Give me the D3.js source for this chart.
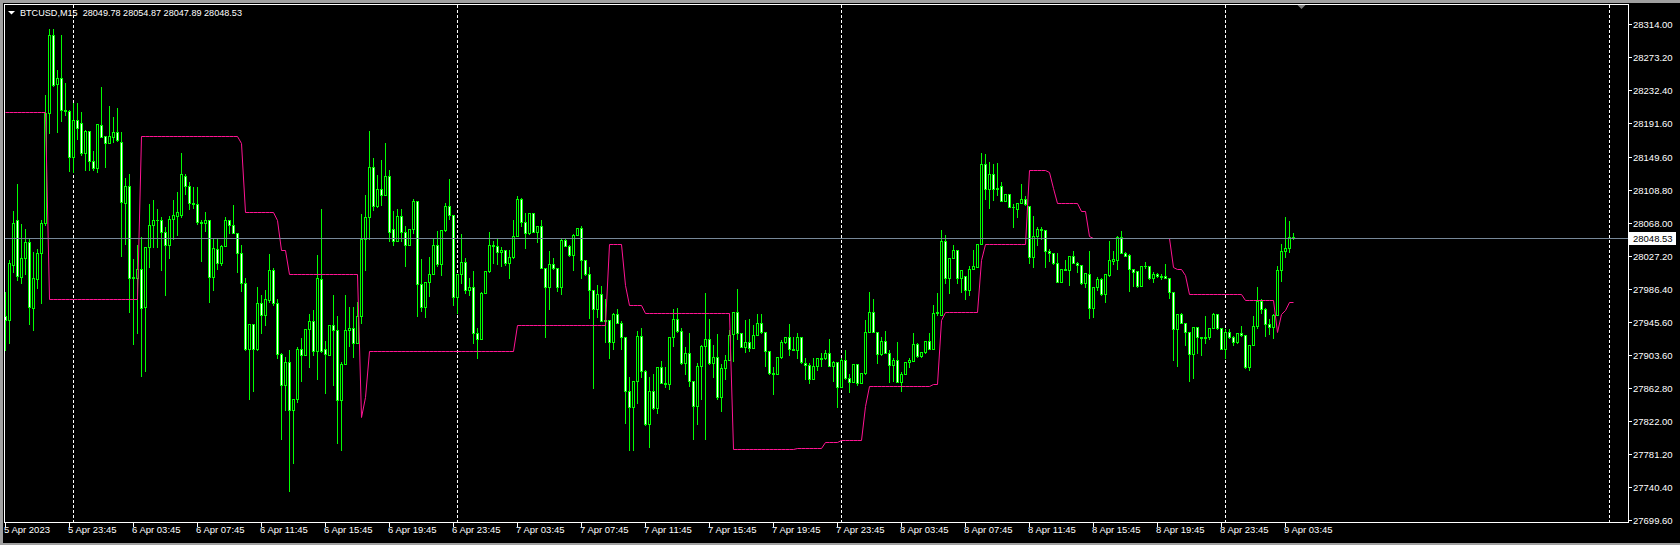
<!DOCTYPE html>
<html><head><meta charset="utf-8">
<script src="https://cdn.jsdelivr.net/npm/d3@7"></script>
<style>
html,body{margin:0;padding:0;background:#000;overflow:hidden}
svg{display:block}
text{font-family:"Liberation Sans",Arial,sans-serif;font-size:9.5px;white-space:pre}
text.title{font-size:9.1px}
</style>
</head><body>
<svg id="chart" width="1680" height="545"></svg>
<script>
// ---------------- DATA ----------------
const symbolLabel = "BTCUSD,M15";
const lastQuote = [28049.78, 28054.87, 28047.89, 28048.53]; // O H L C of the current bar
const bidPrice = 28048.53;

const openP = [
27953,27948,28016,28071,28001,28024,28044,27962,27998,28030,
28068,28204,28301,28240,28248,28208,28207,28150,28195,28192,
28155,28182,28144,28136,28189,28175,28167,28174,28180,28168,
28092,28113,28000,28000,28011,27963,28038,28065,28071,28072,
28057,28040,28073,28077,28078,28126,28113,28093,28091,28069,
28068,28072,28001,28036,28018,28039,28071,28065,28055,28030,
27993,27911,27943,27912,27969,27954,27972,28010,27968,27905,
27867,27896,27836,27850,27911,27904,27936,27946,27909,27998,
27912,27904,27941,27935,27848,27893,27935,27937,27919,27953,
28048,28075,28137,28089,28110,28103,28126,28060,28046,28077,
28057,28040,28060,28095,27992,27963,27994,28004,28040,28017,
28059,28089,28078,27976,28004,28020,27985,27988,27931,27924,
27981,28008,28041,28039,28032,28034,28018,28025,28052,28098,
28069,28055,28080,28057,28064,28012,27988,28017,28012,27988,
28047,28039,28028,28053,28062,28022,28004,27985,27961,27980,
27946,27948,27920,27955,27944,27926,27860,27840,27872,27928,
27884,27818,27860,27838,27889,27870,27868,27926,27949,27934,
27894,27906,27872,27841,27891,27915,27924,27894,27902,27852,
27888,27898,27930,27957,27931,27914,27920,27913,27929,27944,
27932,27909,27882,27880,27902,27920,27927,27912,27910,27926,
27894,27892,27874,27891,27899,27900,27906,27890,27895,27864,
27898,27876,27871,27893,27869,27882,27932,27957,27932,27905,
27921,27907,27892,27898,27871,27881,27896,27897,27918,27903,
27908,27921,27912,27956,27954,28046,27999,28024,28034,27999,
28002,27985,28011,28013,28042,28141,28110,28128,28110,28113,
28095,28104,28088,28085,28092,28098,28089,28026,28052,28060,
28059,28033,28030,28018,27995,28011,28010,28027,28018,28016,
27993,28004,27962,27988,27998,27980,28003,28021,28022,28050,
28030,28028,28011,28008,27990,28015,28015,27999,28005,28002,
28002,28000,27982,27936,27955,27944,27933,27905,27939,27926,
27925,27927,27938,27955,27937,27912,27933,27926,27920,27931,
27929,27889,27916,27940,27971,27961,27942,27939,27954,28010,
28033,28037,28049.78];

const highP = [
27982,28022,28082,28116,28066,28060,28049,28032,28035,28071,
28226,28308,28308,28257,28301,28241,28208,28217,28217,28205,
28183,28182,28157,28190,28236,28175,28213,28199,28210,28180,
28123,28129,28023,28040,28050,28038,28091,28096,28085,28075,
28063,28076,28096,28106,28154,28128,28119,28112,28112,28072,
28081,28072,28048,28048,28040,28075,28072,28090,28055,28041,
28000,27943,27943,27989,27978,27985,28029,28012,27974,27906,
27902,27910,27850,27914,27925,27936,27955,27960,28028,28085,
27922,27941,27979,27952,27896,27978,27964,27963,27970,28079,
28102,28182,28148,28127,28146,28167,28134,28082,28085,28085,
28064,28060,28097,28095,28023,27994,28026,28048,28058,28059,
28093,28122,28078,28004,28054,28024,27999,28008,27937,27982,
28008,28057,28046,28048,28038,28034,28034,28071,28101,28099,
28080,28080,28080,28064,28072,28012,28033,28024,28012,28048,
28049,28041,28054,28062,28064,28022,28013,27985,27991,27990,
27973,27948,27956,27961,27946,27926,27877,27872,27934,27937,
27885,27877,27880,27889,27897,27889,27926,27961,27962,27937,
27914,27931,27872,27894,27917,27981,27949,27917,27930,27893,
27904,27935,27957,27986,27931,27948,27949,27941,27955,27955,
27932,27909,27889,27902,27923,27927,27942,27926,27931,27926,
27900,27894,27900,27900,27906,27910,27924,27897,27895,27900,
27910,27881,27893,27893,27882,27947,27982,27973,27932,27926,
27934,27910,27901,27920,27883,27896,27900,27931,27919,27908,
27921,27931,27966,27981,28059,28053,28024,28041,28034,28010,
28002,28014,28034,28042,28155,28153,28143,28141,28142,28119,
28104,28104,28091,28093,28116,28101,28089,28076,28063,28063,
28059,28035,28031,28030,28011,28022,28027,28033,28019,28016,
28006,28033,27988,28001,27999,28004,28046,28033,28051,28058,
28032,28029,28011,28008,28015,28020,28015,28007,28006,28004,
28017,28000,27982,27955,27956,27944,27933,27939,27939,27927,
27953,27938,27956,27955,27937,27936,27936,27928,27931,27940,
27929,27916,27952,27988,27974,27962,27949,27955,28014,28042,
28075,28070,28054.87];

const lowP = [
27910,27919,28007,27997,27993,28005,27943,27935,27987,27968,
28065,28179,28238,28180,28194,28201,28132,28131,28172,28152,
28133,28133,28133,28131,28174,28137,28167,28168,28169,28027,
28042,27957,27918,27931,27878,27884,28013,28038,28038,28009,
27979,28024,28048,28053,28075,28104,28085,28086,28067,28021,
28058,27970,27985,28011,28016,28039,28055,28055,28007,27983,
27910,27849,27860,27910,27931,27941,27970,27966,27901,27800,
27836,27736,27770,27846,27872,27904,27889,27904,27874,27908,
27857,27904,27867,27795,27786,27893,27915,27902,27919,27944,
28009,28048,28084,28088,28090,28103,28046,28040,28046,28046,
28014,28040,28055,27953,27959,27951,27977,28004,28014,28003,
28058,28073,27966,27956,27993,27981,27978,27919,27900,27924,
27981,28007,28018,28017,28015,28016,27999,28024,28052,28064,
28037,28054,28056,28044,28012,27926,27961,28011,27984,27980,
28039,28027,28010,28053,28000,28003,27950,27863,27951,27946,
27920,27900,27911,27944,27911,27820,27786,27786,27844,27877,
27817,27790,27837,27832,27869,27865,27862,27915,27933,27893,
27881,27866,27800,27819,27850,27800,27893,27877,27849,27835,
27874,27898,27897,27924,27914,27908,27909,27913,27929,27931,
27891,27881,27856,27880,27901,27919,27904,27910,27901,27894,
27874,27869,27874,27885,27891,27899,27890,27872,27840,27864,
27874,27858,27871,27867,27869,27881,27932,27932,27894,27904,
27907,27871,27872,27871,27860,27881,27889,27897,27902,27902,
27907,27911,27912,27954,27954,27993,27981,28024,27993,27982,
27974,27979,28011,28013,28042,28097,28086,28096,28103,28095,
28095,28087,28063,28075,28092,28090,28018,28013,28040,28048,
28013,28021,28017,27994,27994,28010,27991,28018,28007,27992,
27988,27950,27951,27985,27978,27970,28002,28017,28011,28030,
28027,27984,27990,27989,27990,28012,27998,27995,28001,27998,
28000,27975,27898,27890,27944,27916,27872,27876,27907,27904,
27919,27924,27938,27936,27912,27900,27925,27916,27919,27928,
27888,27885,27916,27938,27956,27928,27930,27925,27954,27996,
28025,28032,28047.89];

const closeP = [
27948,28018,28068,28002,28024,28044,27963,27999,28030,28068,
28204,28301,28239,28248,28208,28207,28150,28195,28185,28155,
28182,28144,28136,28190,28174,28167,28175,28180,28170,28094,
28113,28000,28001,28011,27962,28038,28065,28071,28072,28057,
28040,28073,28078,28081,28128,28113,28093,28091,28069,28068,
28072,28001,28037,28018,28039,28071,28065,28055,28030,27993,
27911,27943,27912,27969,27954,27973,28010,27968,27905,27867,
27896,27836,27850,27911,27904,27936,27946,27909,27999,27909,
27905,27941,27935,27848,27893,27935,27937,27919,27953,28048,
28075,28137,28089,28110,28103,28126,28057,28046,28077,28057,
28040,28060,28095,27992,27963,27994,28004,28040,28017,28059,
28089,28078,27976,28004,28020,27985,27988,27931,27924,27981,
28008,28041,28039,28032,28034,28018,28025,28052,28098,28069,
28055,28080,28057,28064,28012,27988,28017,28012,27988,28047,
28039,28028,28053,28062,28022,28004,27985,27961,27980,27946,
27948,27920,27955,27944,27926,27860,27840,27872,27928,27884,
27818,27860,27838,27889,27870,27868,27926,27949,27934,27894,
27906,27872,27841,27891,27915,27924,27894,27902,27852,27888,
27898,27929,27957,27931,27914,27920,27913,27929,27944,27932,
27909,27882,27880,27902,27920,27927,27912,27910,27926,27895,
27892,27874,27891,27900,27900,27907,27890,27895,27864,27898,
27876,27871,27893,27869,27882,27932,27957,27932,27905,27921,
27907,27892,27898,27871,27881,27895,27898,27918,27903,27908,
27921,27911,27956,27957,28046,27999,28024,28034,27999,28010,
27985,28011,28014,28042,28141,28110,28128,28110,28111,28095,
28104,28088,28087,28092,28098,28091,28026,28052,28060,28059,
28033,28030,28018,27995,28011,28010,28027,28018,28016,27993,
28006,27962,27988,27998,27980,28004,28022,28023,28050,28030,
28027,28011,28007,27990,28015,28014,27999,28005,28002,28001,
28000,27982,27936,27955,27944,27933,27905,27939,27926,27925,
27927,27938,27955,27937,27912,27933,27926,27920,27931,27929,
27889,27916,27940,27971,27961,27942,27939,27954,28010,28033,
28037,28050,28048.53];

// stepped indicator line (one value per bar)
const stopLine = [
28204.7,28204.7,28204.7,28204.7,28204.7,28204.7,28204.7,28204.7,28204.7,28204.7,
28204.7,27974.1,27974.1,27974.1,27974.1,27974.1,27974.1,27974.1,27974.1,27974.1,
27974.1,27974.1,27974.1,27974.1,27974.1,27974.1,27974.1,27974.1,27974.1,27974.1,
27974.1,27974.1,27974.1,27974.1,28175.7,28175.7,28175.7,28175.7,28175.7,28175.7,
28175.7,28175.7,28175.7,28175.7,28175.7,28175.7,28175.7,28175.7,28175.7,28175.7,
28175.7,28175.7,28175.7,28175.7,28175.7,28175.7,28175.7,28175.7,28175.7,28167.1,
28080.8,28080.8,28080.8,28080.8,28080.8,28080.8,28080.8,28080.8,28071.2,28034.0,
28034.0,28005.1,28005.1,28005.1,28005.1,28005.1,28005.1,28005.1,28005.1,28005.1,
28005.1,28005.1,28005.1,28005.1,28005.1,28005.1,28005.1,28005.1,28005.1,27827.3,
27852.1,27908.8,27908.8,27908.8,27908.8,27908.8,27908.8,27908.8,27908.8,27908.8,
27908.8,27908.8,27908.8,27908.8,27908.8,27908.8,27908.8,27908.8,27908.8,27908.8,
27908.8,27908.8,27908.8,27908.8,27908.8,27908.8,27908.8,27908.8,27908.8,27908.8,
27908.8,27908.8,27908.8,27908.8,27908.8,27908.8,27908.8,27908.8,27941.9,27941.9,
27941.9,27941.9,27941.9,27941.9,27941.9,27941.9,27941.9,27941.9,27941.9,27941.9,
27941.9,27941.9,27941.9,27941.9,27941.9,27941.9,27941.9,27941.9,27941.9,27941.9,
27941.9,28042.3,28042.3,28042.3,28042.3,27990.6,27966.7,27966.7,27966.7,27966.7,
27956.7,27956.7,27956.7,27956.7,27956.7,27956.7,27956.7,27956.7,27956.7,27956.7,
27956.7,27956.7,27956.7,27956.7,27956.7,27956.7,27956.7,27956.7,27956.7,27956.7,
27956.7,27956.7,27788.1,27788.1,27788.1,27788.1,27788.1,27788.1,27788.1,27788.1,
27788.1,27788.1,27788.1,27788.1,27788.1,27788.1,27788.1,27788.1,27789.3,27789.3,
27789.3,27789.3,27789.3,27789.3,27789.3,27796.3,27796.3,27796.3,27796.3,27799.3,
27799.3,27799.3,27799.3,27799.3,27799.3,27840.6,27865.4,27865.4,27865.4,27865.4,
27865.4,27865.4,27865.4,27865.4,27865.4,27865.4,27865.4,27865.4,27865.4,27865.4,
27865.4,27865.4,27868.7,27868.7,27947.2,27957.5,27957.5,27957.5,27957.5,27957.5,
27957.5,27957.5,27957.5,27957.5,28021.6,28042.3,28042.3,28042.3,28042.3,28042.3,
28042.3,28042.3,28042.3,28042.3,28042.3,28042.3,28132.8,28132.8,28132.8,28132.8,
28132.8,28131.1,28111.7,28091.9,28091.9,28091.9,28091.9,28091.9,28091.9,28083.2,
28083.2,28051.4,28049.7,28049.7,28049.7,28049.7,28049.7,28049.7,28049.7,28049.7,
28049.7,28049.7,28049.7,28049.7,28049.7,28049.7,28049.7,28049.7,28049.7,28049.7,
28049.7,28049.7,28013.3,28010.1,28010.1,28003.0,27979.1,27979.1,27979.1,27979.1,
27979.1,27979.1,27979.1,27979.1,27979.1,27979.1,27979.1,27979.1,27979.1,27979.1,
27972.9,27972.9,27972.9,27972.9,27972.9,27972.9,27972.9,27972.9,27932.0,27954.6,
27959.6,27969.9,27970.4];

const priceTicks = [28314.00,28273.20,28232.40,28191.60,28149.60,28108.80,28068.00,28027.20,
                    27986.40,27945.60,27903.60,27862.80,27822.00,27781.20,27740.40,27699.60];

const timeLabels = ["5 Apr 2023","5 Apr 23:45","6 Apr 03:45","6 Apr 07:45","6 Apr 11:45","6 Apr 15:45",
  "6 Apr 19:45","6 Apr 23:45","7 Apr 03:45","7 Apr 07:45","7 Apr 11:45","7 Apr 15:45","7 Apr 19:45",
  "7 Apr 23:45","8 Apr 03:45","8 Apr 07:45","8 Apr 11:45","8 Apr 15:45","8 Apr 19:45","8 Apr 23:45","9 Apr 03:45"];
const timeLabelBars = [0,16,32,48,64,80,96,112,128,144,160,176,192,208,224,240,256,272,288,304,320];
const daySeparatorBars = [17,113,209,305,401];
const chartShiftBar = 324;

// ---------------- DRAW ----------------
const svg = d3.select("#chart");
const GREEN = "#00ff00", PINK = "#ff1493", BIDCOL = "#778899";
const frame = {left:4, top:4, right:1628, bottom:522};

const x = d3.scaleLinear().domain([0, 400]).range([5.5, 1605.5]);
const y = d3.scaleLinear().domain([27699.6, 28314.0]).range([520, 24.3]);
const py = v => Math.round(y(v)) + 0.5;

svg.append("rect").attr("width",1680).attr("height",545).attr("fill","#000");

// window border
svg.append("rect").attr("x",0).attr("y",0).attr("width",1680).attr("height",3).attr("fill","#a0a0a0");
svg.append("rect").attr("x",0).attr("y",0).attr("width",3).attr("height",545).attr("fill","#a0a0a0");
svg.append("rect").attr("x",0).attr("y",543).attr("width",1680).attr("height",2).attr("fill","#a0a0a0");

const plot = svg.append("g");

// day separators
plot.selectAll("line.sep").data(daySeparatorBars).join("line")
  .attr("class","sep")
  .attr("x1", d => Math.floor(x(d)) + 0.5).attr("x2", d => Math.floor(x(d)) + 0.5)
  .attr("y1", frame.top + 1).attr("y2", frame.bottom)
  .attr("stroke","#fff").attr("stroke-width",1).attr("stroke-dasharray","3,2");

// candles
const idx = d3.range(openP.length);
const cg = plot.append("g");
cg.selectAll("line.wick").data(idx).join("line")
  .attr("x1", i => Math.floor(x(i)) + 0.5).attr("x2", i => Math.floor(x(i)) + 0.5)
  .attr("y1", i => py(Math.max(highP[i], openP[i], closeP[i])) - 0.5)
  .attr("y2", i => py(Math.min(lowP[i], openP[i], closeP[i])) + 0.5)
  .attr("stroke", GREEN).attr("stroke-width",1);
cg.selectAll("rect.body").data(idx.filter(i => Math.abs(py(openP[i]) - py(closeP[i])) >= 1)).join("rect")
  .attr("x", i => Math.floor(x(i)) - 0.5)
  .attr("width", 2)
  .attr("y", i => Math.min(py(openP[i]), py(closeP[i])))
  .attr("height", i => Math.abs(py(openP[i]) - py(closeP[i])))
  .attr("fill", i => closeP[i] >= openP[i] ? "#000" : "#fff")
  .attr("stroke", GREEN).attr("stroke-width",1);
cg.selectAll("line.doji").data(idx.filter(i => Math.abs(py(openP[i]) - py(closeP[i])) < 1)).join("line")
  .attr("x1", i => Math.floor(x(i)) - 1).attr("x2", i => Math.floor(x(i)) + 2)
  .attr("y1", i => py(closeP[i])).attr("y2", i => py(closeP[i]))
  .attr("stroke", GREEN).attr("stroke-width",1);

// indicator line
const line = d3.line().x((d,i) => Math.floor(x(i)) + 0.5).y(d => py(d));
plot.append("path").attr("d", line(stopLine))
  .attr("fill","none").attr("stroke",PINK).attr("stroke-width",1);

// bid line
plot.append("line")
  .attr("x1", frame.left + 1).attr("x2", frame.right)
  .attr("y1", py(bidPrice)).attr("y2", py(bidPrice))
  .attr("stroke", BIDCOL).attr("stroke-width",1);

// chart shift marker
const sx = Math.floor(x(chartShiftBar)) + 0.5;
svg.append("path").attr("d", `M${sx-4},${frame.top+1}L${sx+4},${frame.top+1}L${sx},${frame.top+5}Z`).attr("fill","#808080");

// frame
svg.append("rect").attr("x", frame.left + 0.5).attr("y", frame.top + 0.5)
  .attr("width", frame.right - frame.left).attr("height", frame.bottom - frame.top)
  .attr("fill","none").attr("stroke","#fff").attr("stroke-width",1);

// price axis
const pa = svg.append("g");
pa.selectAll("line").data(priceTicks).join("line")
  .attr("x1", frame.right + 0.5).attr("x2", frame.right + 4)
  .attr("y1", d => py(d)).attr("y2", d => py(d))
  .attr("stroke","#fff");
pa.selectAll("text").data(priceTicks).join("text")
  .attr("x", frame.right + 5).attr("y", d => py(d))
  .attr("dy","0.35em").attr("fill","#fff")
  .text(d => d.toFixed(2));

// bid label
const by = py(bidPrice);
svg.append("rect").attr("x", frame.right + 1).attr("y", Math.round(by) - 7)
  .attr("width", 47).attr("height", 13).attr("fill","#fff");
svg.append("text").attr("x", frame.right + 5).attr("y", by).attr("dy","0.35em")
  .attr("fill","#000").text(bidPrice.toFixed(2));

// time axis
const ta = svg.append("g");
ta.selectAll("line").data(timeLabelBars).join("line")
  .attr("x1", d => Math.floor(x(d)) + 0.5).attr("x2", d => Math.floor(x(d)) + 0.5)
  .attr("y1", frame.bottom + 0.5).attr("y2", frame.bottom + 5)
  .attr("stroke","#fff");
ta.selectAll("text").data(timeLabels).join("text")
  .attr("x", (d,i) => Math.floor(x(timeLabelBars[i])) - 1)
  .attr("y", frame.bottom + 8).attr("dy","0.35em")
  .attr("fill","#fff").text(d => d);

// title
svg.append("path").attr("d","M8,11L15,11L11.5,14.5Z").attr("fill","#fff");
svg.append("text").attr("class","title").attr("x", 20).attr("y", 12.5).attr("dy","0.35em").attr("fill","#fff")
  .text(symbolLabel + "  " + lastQuote.map(v => v.toFixed(2)).join(" "));
</script>
</body></html>
